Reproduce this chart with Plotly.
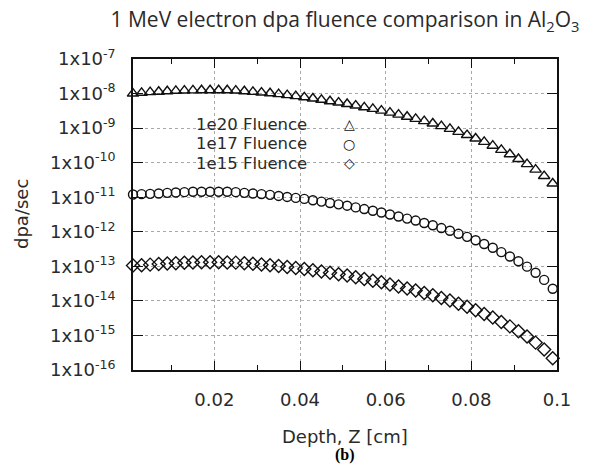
import plotly.graph_objects as go

# Depth values [cm]
depth = [round(0.001 + 0.002 * i, 3) for i in range(50)]

# dpa/sec
fluence_1e20 = [1.00e-8, 1.05e-8, 1.10e-8, 1.13e-8, 1.17e-8, 1.20e-8, 1.22e-8, 1.24e-8, 1.25e-8, 1.25e-8,
                1.25e-8, 1.25e-8, 1.22e-8, 1.17e-8, 1.12e-8, 1.07e-8, 1.02e-8, 9.6e-9, 9.0e-9, 8.4e-9,
                7.8e-9, 7.2e-9, 6.6e-9, 6.0e-9, 5.5e-9, 5.0e-9, 4.5e-9, 4.0e-9, 3.6e-9, 3.2e-9,
                2.8e-9, 2.45e-9, 2.13e-9, 1.85e-9, 1.59e-9, 1.36e-9, 1.14e-9, 9.5e-10, 7.8e-10, 6.3e-10,
                5.0e-10, 4.0e-10, 3.1e-10, 2.35e-10, 1.75e-10, 1.28e-10, 9.1e-11, 6.3e-11, 4.1e-11, 2.5e-11]

fluence_1e17 = [1.20e-11, 1.23e-11, 1.25e-11, 1.28e-11, 1.34e-11, 1.37e-11, 1.40e-11, 1.44e-11, 1.44e-11, 1.44e-11,
                1.44e-11, 1.44e-11, 1.40e-11, 1.34e-11, 1.28e-11, 1.23e-11, 1.17e-11, 1.09e-11, 1.02e-11, 9.56e-12,
                8.93e-12, 8.16e-12, 7.46e-12, 6.81e-12, 6.22e-12, 5.69e-12, 5.08e-12, 4.54e-12, 4.05e-12, 3.62e-12,
                3.16e-12, 2.76e-12, 2.41e-12, 2.11e-12, 1.80e-12, 1.54e-12, 1.28e-12, 1.07e-12, 8.73e-13, 7.13e-13,
                5.69e-13, 4.44e-13, 3.46e-13, 2.58e-13, 1.92e-13, 1.40e-13, 9.78e-14, 6.51e-14, 4.05e-14, 2.25e-14]

fluence_1e15 = [1.05e-13, 1.08e-13, 1.12e-13, 1.16e-13, 1.20e-13, 1.23e-13, 1.26e-13, 1.29e-13, 1.31e-13, 1.31e-13,
                1.31e-13, 1.30e-13, 1.28e-13, 1.23e-13, 1.18e-13, 1.13e-13, 1.08e-13, 1.02e-13, 9.6e-14, 9.0e-14,
                8.4e-14, 7.7e-14, 7.1e-14, 6.5e-14, 5.9e-14, 5.4e-14, 4.8e-14, 4.3e-14, 3.85e-14, 3.45e-14,
                3.0e-14, 2.62e-14, 2.28e-14, 1.99e-14, 1.70e-14, 1.46e-14, 1.22e-14, 1.02e-14, 8.3e-15, 6.8e-15,
                5.4e-15, 4.2e-15, 3.3e-15, 2.45e-15, 1.83e-15, 1.33e-15, 9.3e-16, 6.2e-16, 3.9e-16, 2.2e-16]

series_names = ["1e20 Fluence", "1e17 Fluence", "1e15 Fluence"]
series_symbols = ["triangle-up-open", "circle-open", "diamond-open"]
legend_glyphs = ["\u25B3", "\u25CB", "\u25C7"]

x_tick_vals = [0.02, 0.04, 0.06, 0.08, 0.1]
x_tick_text = ["0.02", "0.04", "0.06", "0.08", "0.1"]
y_exponents = [-7, -8, -9, -10, -11, -12, -13, -14, -15, -16]
y_tick_vals = [10.0 ** e for e in y_exponents]
y_tick_text = ["1x10<sup>%d</sup>" % e for e in y_exponents]

TXT = "#2a2a2a"
FONT = "DejaVu Sans"

# The page body has an 8px default margin, so the figure is 8px smaller
# than the window and shifted accordingly.
PAGE_OFF = 8
FIG_W, FIG_H = 595 - PAGE_OFF, 468 - PAGE_OFF
PLOT_TOP, PLOT_BOTTOM = 59, 370          # page pixels
PLOT_LEFT, PLOT_RIGHT = 133, 557
PH = PLOT_BOTTOM - PLOT_TOP
PW = PLOT_RIGHT - PLOT_LEFT


def py(page_y):
    return (PLOT_BOTTOM - page_y) / PH


def px(page_x):
    return (page_x - PLOT_LEFT) / PW


fig = go.Figure()
marker_sizes = [10, 9, 10]
for name, vals, sym, ms in zip(series_names, [fluence_1e20, fluence_1e17, fluence_1e15],
                               series_symbols, marker_sizes):
    fig.add_trace(go.Scatter(
        x=depth, y=vals, mode="markers", name=name, showlegend=False,
        cliponaxis=False,
        marker=dict(symbol=sym, size=ms, color="#111111", line=dict(width=1.4, color="#111111")),
    ))

fig.update_layout(
    width=FIG_W, height=FIG_H,
    margin=dict(l=PLOT_LEFT - PAGE_OFF, r=595 - PLOT_RIGHT,
                t=PLOT_TOP - PAGE_OFF, b=468 - PLOT_BOTTOM),
    paper_bgcolor="white", plot_bgcolor="white",
    font=dict(family=FONT, size=18, color=TXT),
    title=dict(
        text="1 MeV electron dpa fluence comparison in Al<sub>2</sub>O<sub>3</sub>",
        font=dict(family="Open Sans", size=21, color=TXT),
        xref="paper", x=0.5, xanchor="center",
        yref="container", y=1 - (20 - PAGE_OFF) / FIG_H, yanchor="middle",
    ),
    xaxis=dict(
        range=[0.001, 0.1], tickmode="array", tickvals=x_tick_vals, ticktext=x_tick_text,
        ticks="inside", ticklen=9, tickwidth=1.3, tickcolor="#111",
        showline=True, linecolor="#111", linewidth=1.5, mirror="ticks",
        showgrid=True, gridcolor="#a8a8a8", griddash="dot", gridwidth=1,
        zeroline=False, ticklabelstandoff=13, automargin=False,
        tickfont=dict(family=FONT, size=18, color=TXT),
        minor=dict(tickmode="linear", tick0=0, dtick=0.01, ticks="inside", ticklen=5,
                   tickwidth=1.3, tickcolor="#111", showgrid=False),
    ),
    yaxis=dict(
        type="log", range=[-16, -7], tickmode="array", tickvals=y_tick_vals, ticktext=y_tick_text,
        ticks="inside", ticklen=10, tickwidth=1.3, tickcolor="#111",
        showline=True, linecolor="#111", linewidth=1.5, mirror="ticks",
        showgrid=True, gridcolor="#a8a8a8", griddash="dot", gridwidth=1,
        zeroline=False, ticklabelstandoff=12, automargin=False,
        tickfont=dict(family=FONT, size=18, color=TXT),
    ),
)

# legend box (white, no border) covering grid lines
fig.add_shape(type="rect", xref="paper", yref="paper", x0=px(183), x1=px(387), y0=py(173), y1=py(112),
              fillcolor="white", line=dict(width=0), layer="between")

legend_rows_y = [124, 143.5, 163]
for name, glyph, yy in zip(series_names, legend_glyphs, legend_rows_y):
    fig.add_annotation(xref="paper", yref="paper", x=px(309), y=py(yy), text=name, showarrow=False,
                       xanchor="right", yanchor="middle", font=dict(family=FONT, size=16.5, color=TXT))
    fig.add_annotation(xref="paper", yref="paper", x=px(349), y=py(yy), text=glyph, showarrow=False,
                       xanchor="center", yanchor="middle", font=dict(family=FONT, size=14, color="#111"))

fig.add_annotation(xref="paper", yref="paper", x=0.5, y=py(436), text="Depth, Z [cm]",
                   showarrow=False, borderpad=0,
                   xanchor="center", yanchor="middle", font=dict(family=FONT, size=18, color=TXT))
fig.add_annotation(xref="paper", yref="paper", x=px(21), y=py(214), text="dpa/sec", showarrow=False,
                   textangle=-90, xanchor="center", yanchor="middle", font=dict(family=FONT, size=18, color=TXT))
fig.add_annotation(xref="paper", yref="paper", x=0.5, y=py(455), text="<b>(b)</b>",
                   showarrow=False, borderpad=0,
                   xanchor="center", yanchor="middle", font=dict(family="Liberation Serif", size=16, color="#000"))

fig.write_html("out.html")
